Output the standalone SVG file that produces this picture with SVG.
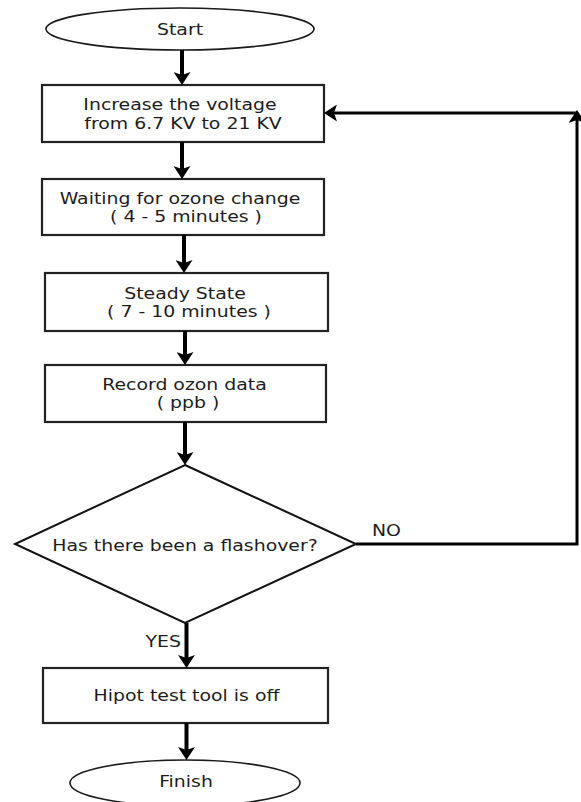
<svg xmlns="http://www.w3.org/2000/svg" width="581" height="802" viewBox="0 0 581 802">
<style>
.bg{fill:#ffffff}
.term{fill:#ffffff;stroke:#1a1a1a;stroke-width:1.6}
.box{fill:#ffffff;stroke:#222222;stroke-width:2.2}
.dec{fill:#ffffff;stroke:#111111;stroke-width:2}
.lbl{font-family:"DejaVu Sans","Liberation Sans",sans-serif;font-size:16px;fill:#1c1c1c;text-anchor:middle}
.edge{fill:#1c1c1c;font-family:"DejaVu Sans","Liberation Sans",sans-serif;font-size:16px}
.flow{fill:none;stroke:#000000;stroke-width:4}
.loop{fill:none;stroke:#000000;stroke-width:3}
</style>
<defs>
<marker id="ah" viewBox="0 0 13 17" refX="4" refY="8.5" markerWidth="13" markerHeight="17" markerUnits="userSpaceOnUse" orient="auto">
<path d="M0,0 L13,8.5 L0,17 L3,8.5 z" fill="#000000"/>
</marker>
</defs>
<rect class="bg" x="0" y="0" width="581" height="802"/>

<g id="start">
<ellipse class="term" cx="180" cy="29" rx="134" ry="21"/>
<text class="lbl" transform="translate(180 35) scale(1.18 1)">Start</text>
</g>

<g id="increase">
<rect class="box" x="42" y="85" width="282" height="57"/>
<text class="lbl" transform="translate(180 110) scale(1.18 1)">Increase the voltage</text>
<text class="lbl" transform="translate(183 128.5) scale(1.18 1)">from 6.7 KV to 21 KV</text>
</g>

<g id="waiting">
<rect class="box" x="42" y="179" width="282" height="56"/>
<text class="lbl" transform="translate(180 203.5) scale(1.18 1)">Waiting for ozone change</text>
<text class="lbl" transform="translate(186 222) scale(1.18 1)">( 4 - 5 minutes )</text>
</g>

<g id="steady">
<rect class="box" x="45" y="273" width="283" height="58"/>
<text class="lbl" transform="translate(185 298.5) scale(1.18 1)">Steady State</text>
<text class="lbl" transform="translate(189 317) scale(1.18 1)">( 7 - 10 minutes )</text>
</g>

<g id="record">
<rect class="box" x="45" y="365" width="281" height="57"/>
<text class="lbl" transform="translate(184.5 389.5) scale(1.18 1)">Record ozon data</text>
<text class="lbl" transform="translate(188 408) scale(1.18 1)">( ppb )</text>
</g>

<g id="decision">
<polygon class="dec" points="185,465 356,544 185,623 15,544"/>
<text class="lbl" transform="translate(185 551) scale(1.18 1)">Has there been a flashover?</text>
</g>

<g id="hipot">
<rect class="box" x="43" y="668" width="285" height="55"/>
<text class="lbl" transform="translate(186.5 701) scale(1.18 1)">Hipot test tool is off</text>
</g>

<g id="finish">
<ellipse class="term" cx="185" cy="783" rx="115" ry="23"/>
<text class="lbl" transform="translate(186 787) scale(1.18 1)">Finish</text>
</g>

<g id="connectors">
<line class="flow" x1="182" y1="50" x2="182" y2="76" marker-end="url(#ah)"/>
<line class="flow" x1="182" y1="142" x2="182" y2="170" marker-end="url(#ah)"/>
<line class="flow" x1="184" y1="235" x2="184" y2="264" marker-end="url(#ah)"/>
<line class="flow" x1="185" y1="331" x2="185" y2="356" marker-end="url(#ah)"/>
<line class="flow" x1="185" y1="422" x2="185" y2="456" marker-end="url(#ah)"/>
<line class="flow" x1="186.5" y1="623" x2="186.5" y2="659" marker-end="url(#ah)"/>
<line class="flow" x1="186.5" y1="723" x2="186.5" y2="751" marker-end="url(#ah)"/>
<polyline class="loop" points="356,544 577,544 577,119" marker-end="url(#ah)"/>
<line class="loop" x1="577" y1="113" x2="333" y2="113" marker-end="url(#ah)"/>
<text class="edge" transform="translate(372 536) scale(1.18 1)">NO</text>
<text class="edge" text-anchor="end" transform="translate(181 647) scale(1.18 1)">YES</text>
</g>
</svg>
